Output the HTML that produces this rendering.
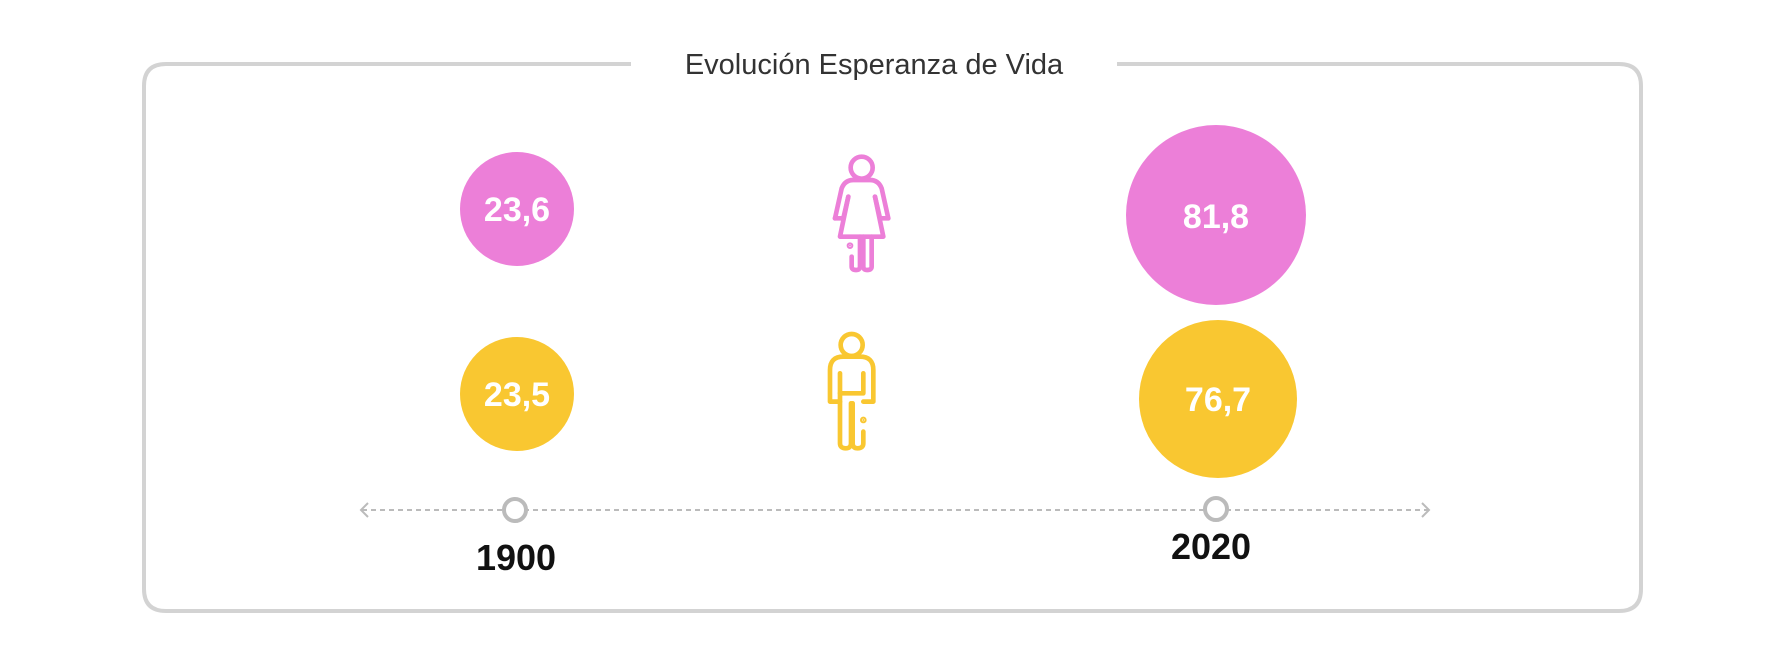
<!DOCTYPE html>
<html><head><meta charset="utf-8"><style>
html,body{margin:0;padding:0;background:#fff;}
svg{display:block}
</style></head><body>
<svg width="1774" height="670" viewBox="0 0 1774 670" xmlns="http://www.w3.org/2000/svg">
<path d="M631,64 L166,64 Q144,64 144,86 L144,589 Q144,611 166,611 L1619,611 Q1641,611 1641,589 L1641,86 Q1641,64 1619,64 L1117,64" fill="none" stroke="#d3d3d3" stroke-width="4"/>
<text x="874" y="74" text-anchor="middle" font-family="Liberation Sans, sans-serif" font-size="29" fill="#333">Evolución Esperanza de Vida</text>

<circle cx="517" cy="209" r="57" fill="#ec7fd8"/>
<circle cx="1216" cy="215" r="90" fill="#ec7fd8"/>
<circle cx="517" cy="394" r="57" fill="#f9c731"/>
<circle cx="1218" cy="399" r="79" fill="#f9c731"/>
<g font-family="Liberation Sans, sans-serif" font-weight="bold" font-size="34" fill="#fff" text-anchor="middle">
<text x="517" y="221">23,6</text>
<text x="1216" y="228">81,8</text>
<text x="517" y="406">23,5</text>
<text x="1218" y="411">76,7</text>
</g>

<g transform="translate(780,130) scale(0.3333)" fill="none" stroke-width="14" stroke-linecap="round" stroke-linejoin="round">
<g stroke="#ec7fd8">
<circle cx="245" cy="113" r="33"/>
<path d="M165,265 L185,175 Q195,150 220,150 L270,150 Q295,150 305,175 L325,265 L300,265 L285,200"/>
<path d="M165,265 L190,265 L205,200"/>
<path d="M205,200 L180,320 L310,320 L285,200"/>
<path d="M215,380 L215,410 Q215,420 228,420 Q240,420 240,410 L240,320"/>
<path d="M250,320 L250,410 Q250,420 262,420 Q275,420 275,410 L275,320"/>
<circle cx="210" cy="347" r="3" fill="#ec7fd8"/>
</g>
<g stroke="#f9c731">
<circle cx="215" cy="645" r="33"/>
<path d="M180,815 L150,815 L150,720 Q150,680 190,680 L240,680 Q280,680 280,720 L280,815 L250,815"/>
<path d="M180,730 L180,940 Q180,955 197,955 Q213,955 213,940 L213,820"/>
<path d="M250,730 L250,790 L180,790"/>
<path d="M218,820 L218,940 Q218,955 233,955 Q250,955 250,940 L250,905"/>
<circle cx="250" cy="870" r="3" fill="#f9c731"/>
</g>
</g>

<line x1="362" y1="510" x2="1428" y2="510" stroke="#bbb" stroke-width="2" stroke-dasharray="5,4"/>
<path d="M368,503 L361,510 L368,517" fill="none" stroke="#bbb" stroke-width="2"/>
<path d="M1422,503 L1429,510 L1422,517" fill="none" stroke="#bbb" stroke-width="2"/>
<circle cx="515" cy="510" r="11" fill="#fff" stroke="#bbb" stroke-width="4"/>
<circle cx="1216" cy="509" r="11" fill="#fff" stroke="#bbb" stroke-width="4"/>
<g font-family="Liberation Sans, sans-serif" font-weight="bold" font-size="36" fill="#111" text-anchor="middle">
<text x="516" y="570">1900</text>
<text x="1211" y="559">2020</text>
</g>
</svg>
</body></html>
